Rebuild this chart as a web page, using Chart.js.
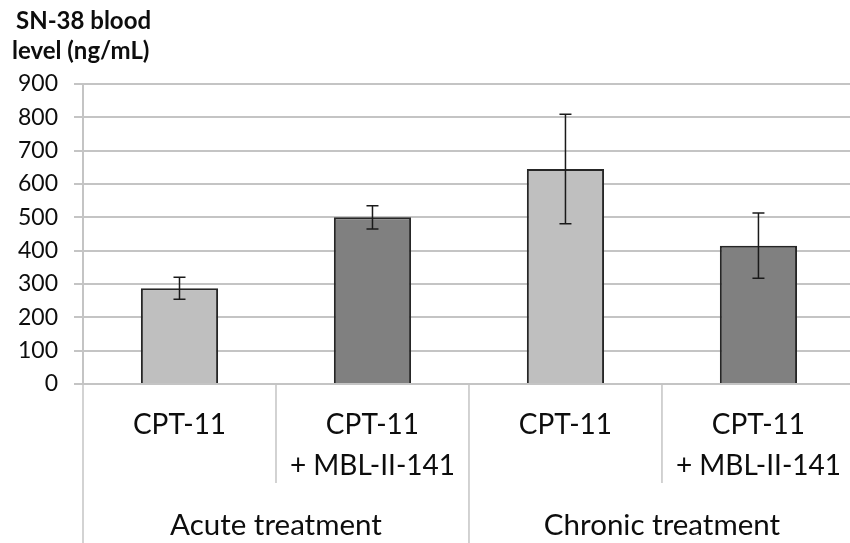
<!DOCTYPE html>
<html>
<head>
<meta charset="utf-8">
<script src="https://cdn.jsdelivr.net/npm/chart.js@4.4.1/dist/chart.umd.min.js"></script>
<style>
  html, body { margin: 0; padding: 0; background: #fff; overflow: hidden; }
  #wrap { position: relative; width: 862px; height: 543px; }
</style>
</head>
<body>
<div id="wrap"><canvas id="c"></canvas></div>
<script>
// ---- data ----
const categories = [['CPT-11'], ['CPT-11', '+ MBL-II-141'], ['CPT-11'], ['CPT-11', '+ MBL-II-141']];
const groups = ['Acute treatment', 'Chronic treatment'];
const groupSizes = [2, 2];
const values = [287, 500, 645, 415];
const errors = [33, 35, 164, 98];
const titleLines = ['SN-38 blood', 'level (ng/mL)'];
const yMin = 0, yMax = 900, yStep = 100;

const FONT = 'Lato, "Open Sans", sans-serif';
const GRID = '#c4c4c4';
const TEXT = '#0d0d0d';

const extras = {
  id: 'extras',
  afterDatasetsDraw(chart) {
    const ctx = chart.ctx;
    const y = chart.scales.y;
    const meta = chart.getDatasetMeta(0);
    ctx.save();
    // error bars
    ctx.strokeStyle = '#1a1a1a';
    ctx.lineWidth = 1.5;
    meta.data.forEach((bar, i) => {
      const px = bar.x;
      const top = y.getPixelForValue(values[i] + errors[i]);
      const bot = y.getPixelForValue(values[i] - errors[i]);
      ctx.beginPath();
      ctx.moveTo(px, top); ctx.lineTo(px, bot);
      ctx.moveTo(px - 6, top); ctx.lineTo(px + 6, top);
      ctx.moveTo(px - 6, bot); ctx.lineTo(px + 6, bot);
      ctx.stroke();
    });
    ctx.restore();
  },
  afterDraw(chart) {
    const ctx = chart.ctx;
    const area = chart.chartArea;
    const n = categories.length;
    const catW = (area.right - area.left) / n;
    ctx.save();
    // dividers
    ctx.strokeStyle = GRID;
    ctx.lineWidth = 1.5;
    let idx = 0;
    const groupBounds = [0];
    groupSizes.forEach(s => { idx += s; groupBounds.push(idx); });
    for (let k = 0; k <= n; k++) {
      const px = area.left + k * catW;
      const isGroup = groupBounds.includes(k);
      ctx.beginPath();
      ctx.moveTo(px, area.bottom);
      ctx.lineTo(px, isGroup ? chart.height : area.bottom + 99);
      ctx.stroke();
    }
    // group labels
    ctx.fillStyle = TEXT;
    ctx.font = '29.5px ' + FONT;
    ctx.textAlign = 'center';
    ctx.textBaseline = 'middle';
    groups.forEach((g, gi) => {
      const a = area.left + groupBounds[gi] * catW;
      const b = area.left + groupBounds[gi + 1] * catW;
      ctx.fillText(g, (a + b) / 2, area.bottom + 141);
    });
    // title
    ctx.font = 'bold 24px ' + FONT;
    ctx.textAlign = 'left';
    ctx.textBaseline = 'alphabetic';
    ctx.fillText(titleLines[0], 16, 29);
    ctx.fillText(titleLines[1], 12, 59);
    ctx.restore();
  }
};

new Chart(document.getElementById('c'), {
  type: 'bar',
  data: {
    labels: categories,
    datasets: [{
      data: values,
      backgroundColor: ['#bfbfbf', '#808080', '#bfbfbf', '#808080'],
      borderColor: '#262626',
      borderWidth: 2,
      categoryPercentage: 1,
      barPercentage: 0.4
    }]
  },
  options: {
    responsive: true,
    maintainAspectRatio: false,
    animation: false,
    layout: { padding: { top: 84, left: 0, right: 0, bottom: 0 } },
    plugins: { legend: { display: false }, tooltip: { enabled: false }, title: { display: false } },
    scales: {
      x: {
        grid: { display: false, drawTicks: false },
        border: { display: false },
        ticks: {
          color: TEXT,
          font: { family: FONT, size: 28, lineHeight: 1.46 },
          padding: 21,
          maxRotation: 0, autoSkip: false
        },
        afterFit(s) { s.height = 159; }
      },
      y: {
        min: yMin, max: yMax,
        grid: { color: GRID, lineWidth: 2, tickLength: 9, drawTicks: true },
        border: { display: true, color: GRID, width: 2 },
        ticks: {
          stepSize: yStep,
          color: TEXT,
          font: { family: FONT, size: 23 },
          padding: 16
        },
        afterFit(s) { s.width = 83; }
      }
    }
  },
  plugins: [extras]
});
</script>
</body>
</html>
